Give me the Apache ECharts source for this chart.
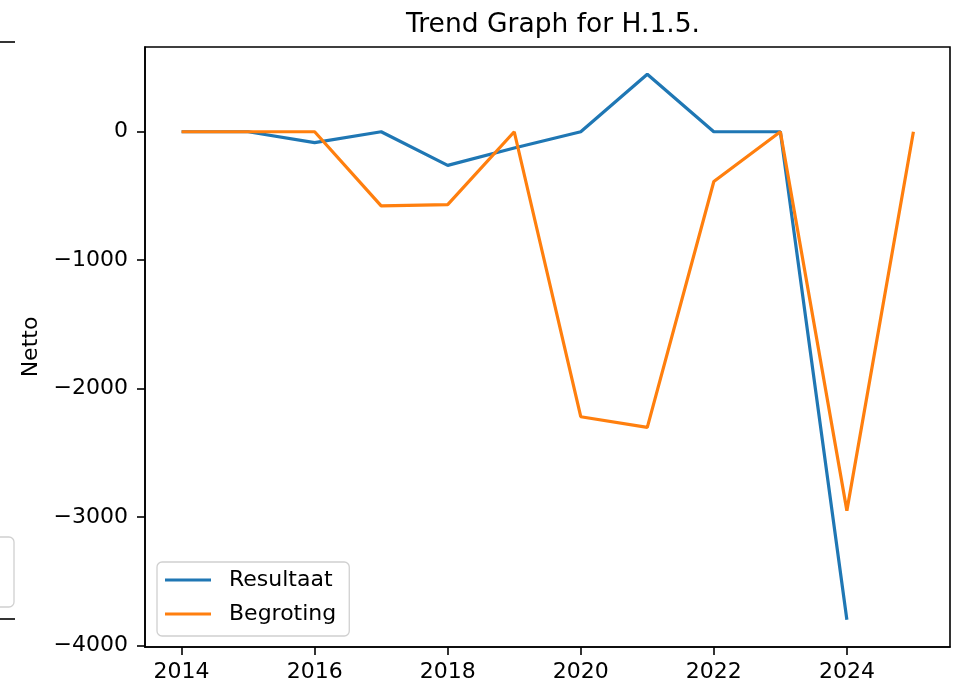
<!DOCTYPE html>
<html>
<head>
<meta charset="utf-8">
<script src="https://cdn.jsdelivr.net/npm/echarts@6/dist/echarts.min.js"></script>
<style>
html,body{margin:0;padding:0;background:#fff;}
#chart{width:953px;height:687px;}
</style>
</head>
<body>
<div id="chart"></div>
<script>
const years = [2014, 2015, 2016, 2017, 2018, 2019, 2020, 2021, 2022, 2023, 2024, 2025];
const resultaat = [0, 0, -85, 0, -262, -127, 0, 448, 0, 0, -3800, null];
const begroting = [0, 0, 0, -577, -567, 0, -2219, -2302, -387, 0, -2950, 0];
const xTicks = [2014, 2016, 2018, 2020, 2022, 2024];
const yTicks = [-4000, -3000, -2000, -1000, 0];
const seriesNames = ['Resultaat', 'Begroting'];
const titleText = 'Trend Graph for H.1.5.';
const yName = 'Netto';

const FONT = 'DejaVu Sans';
const chart = echarts.init(document.getElementById('chart'), null, {renderer: 'canvas'});

function pairs(vals) {
  return years.map((y, i) => [y, vals[i]]).filter(p => p[1] !== null);
}

const fmtNum = v => (v < 0 ? '\u2212' + Math.abs(v) : String(v));

chart.setOption({
  animation: false,
  backgroundColor: '#ffffff',
  title: {
    text: titleText,
    left: 548, top: 7, textAlign: 'center',
    textStyle: {fontFamily: FONT, fontSize: 26.5, fontWeight: 'normal', color: '#000'}
  },
  grid: {left: 145, right: 3, top: 47, bottom: 40, show: true, borderColor: '#000', borderWidth: 1.6, outerBoundsMode: 'none', containLabel: false},
  legend: {
    orient: 'vertical', left: 157, top: 562,
    padding: [6, 13, 10, 8], itemGap: 10,
    backgroundColor: 'rgba(255,255,255,0.8)', borderColor: '#d0d0d0', borderWidth: 1.3, borderRadius: 5,
    icon: 'rect', itemWidth: 46, itemHeight: 3,
    textStyle: {fontFamily: FONT, fontSize: 22, color: '#000', lineHeight: 24, padding: [0, 0, 0, 13]},
    data: seriesNames
  },
  xAxis: {
    type: 'value', min: 2013.45, max: 2025.55,
    axisLine: {show: true, onZero: false, lineStyle: {color: '#000', width: 1.6}},
    axisTick: {show: true, length: 8, lineStyle: {color: '#000', width: 1.6}, customValues: xTicks},
    axisLabel: {fontFamily: FONT, fontSize: 22, color: '#000', margin: 14, customValues: xTicks, formatter: v => String(v)},
    splitLine: {show: false}
  },
  yAxis: {
    type: 'value', min: -4012, max: 660,
    name: yName, nameLocation: 'middle', nameGap: 103, nameRotate: 90,
    nameTextStyle: {fontFamily: FONT, fontSize: 22, color: '#000'},
    axisLine: {show: true, onZero: false, lineStyle: {color: '#000', width: 1.6}},
    axisTick: {show: true, length: 8, lineStyle: {color: '#000', width: 1.6}, customValues: yTicks},
    axisLabel: {fontFamily: FONT, fontSize: 22, color: '#000', margin: 17, customValues: yTicks, formatter: fmtNum},
    splitLine: {show: false}
  },
  series: [
    {name: seriesNames[0], type: 'line', data: pairs(resultaat), showSymbol: false, symbol: 'none',
     lineStyle: {color: '#1f77b4', width: 3.2}, itemStyle: {color: '#1f77b4'}, z: 2},
    {name: seriesNames[1], type: 'line', data: pairs(begroting), showSymbol: false, symbol: 'none',
     lineStyle: {color: '#ff7f0e', width: 3.2}, itemStyle: {color: '#ff7f0e'}, z: 3}
  ],
  graphic: [
    {type: 'line', shape: {x1: 0, y1: 42, x2: 15, y2: 42}, style: {stroke: '#000', lineWidth: 1.6}},
    {type: 'line', shape: {x1: 0, y1: 619, x2: 15, y2: 619}, style: {stroke: '#000', lineWidth: 1.6}},
    {type: 'rect', shape: {x: -60, y: 537, width: 74, height: 70, r: 5}, style: {fill: 'rgba(255,255,255,0.8)', stroke: '#d0d0d0', lineWidth: 1.3}}
  ]
});
</script>
</body>
</html>
